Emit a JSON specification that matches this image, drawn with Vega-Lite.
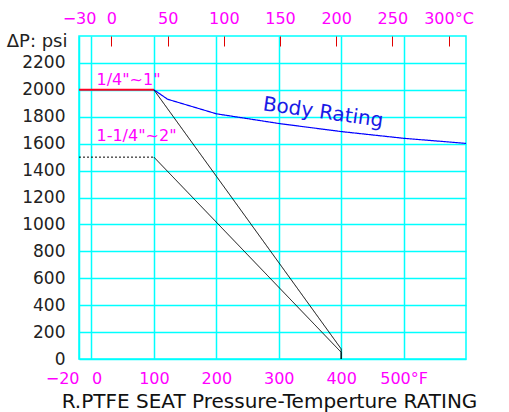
{
  "$schema": "https://vega.github.io/schema/vega-lite/v6.json",
  "width": 387,
  "height": 323,
  "autosize": {"type": "none"},
  "padding": {"left": 79, "top": 36, "right": 43, "bottom": 53},
  "background": "white",
  "config": {
    "view": {"stroke": "#00ffff", "strokeWidth": 1.5},
    "font": "DejaVu Sans",
    "axisY": {
      "grid": true, "gridColor": "#00ffff", "gridWidth": 1.5,
      "ticks": false, "domain": false,
      "labelColor": "#222", "labelFontSize": 17, "labelPadding": 14,
      "labelFlush": false, "labelOverlap": false,
      "titleAngle": 0, "titleAlign": "right", "titleBaseline": "alphabetic",
      "titleX": -12, "titleY": 10, "titleFontSize": 18, "titleFontWeight": "normal", "titleColor": "#222"
    }
  },
  "datasets": {
    "lines": [
      {"s": "r", "i": 1, "x": -20, "y": 2000},
      {"s": "r", "i": 2, "x": 100, "y": 2000},
      {"s": "body", "i": 1, "x": 100, "y": 2000},
      {"s": "body", "i": 2, "x": 122, "y": 1930},
      {"s": "body", "i": 3, "x": 200, "y": 1822},
      {"s": "body", "i": 4, "x": 300, "y": 1750},
      {"s": "body", "i": 5, "x": 400, "y": 1690},
      {"s": "body", "i": 6, "x": 500, "y": 1640},
      {"s": "body", "i": 7, "x": 600, "y": 1602},
      {"s": "k1", "i": 1, "x": 100, "y": 2000},
      {"s": "k1", "i": 2, "x": 400, "y": 75},
      {"s": "k1", "i": 3, "x": 400, "y": 0},
      {"s": "kd", "i": 1, "x": -20, "y": 1500},
      {"s": "kd", "i": 2, "x": 100, "y": 1500},
      {"s": "k2", "i": 1, "x": 100, "y": 1500},
      {"s": "k2", "i": 2, "x": 400, "y": 50},
      {"s": "k2", "i": 3, "x": 400, "y": 0}
    ],
    "sizes": [
      {"label": "1/4\"~1\"", "x": 8, "y": 2072},
      {"label": "1-1/4\"~2\"", "x": 8, "y": 1656}
    ],
    "body": [
      {"label": "Body Rating", "x": 371, "y": 1830}
    ]
  },
  "layer": [
    {
      "data": {"name": "lines"},
      "mark": {"type": "line"},
      "encoding": {
        "x": {
          "field": "x", "type": "quantitative",
          "scale": {"domain": [-20, 600], "nice": false, "zero": false},
          "axis": {
            "orient": "bottom",
            "values": [-20, 0, 100, 200, 300, 400, 500],
            "grid": true, "gridColor": "#00ffff", "gridWidth": 1.5,
            "ticks": false, "domain": false,
            "labelColor": "#ff00ff", "labelFontSize": 16, "labelPadding": 11,
            "labelFlush": false, "labelOverlap": false,
            "labelAlign": {"condition": [{"test": "datum.value == -20", "value": "right"}, {"test": "datum.value == 0", "value": "left"}], "value": "center"},
            "labelExpr": "datum.value == 500 ? '500°F' : datum.label",
            "title": "R.PTFE SEAT Pressure-Temperture RATING",
            "titleFontSize": 20, "titleFontWeight": "normal", "titleColor": "#111",
            "titleBaseline": "alphabetic", "titleY": 48, "titleX": 190, "titleAlign": "center"
          }
        },
        "y": {
          "field": "y", "type": "quantitative",
          "scale": {"domain": [0, 2400], "nice": false, "zero": true},
          "axis": {"values": [0, 200, 400, 600, 800, 1000, 1200, 1400, 1600, 1800, 2000, 2200], "format": "d", "title": "ΔP: psi"}
        },
        "color": {
          "field": "s", "type": "nominal", "legend": null,
          "scale": {"domain": ["body", "r", "k1", "k2", "kd"], "range": ["#0000ff", "#ff0022", "#000000", "#000000", "#000000"]}
        },
        "strokeDash": {
          "field": "s", "type": "nominal", "legend": null,
          "scale": {"domain": ["body", "r", "k1", "k2", "kd"], "range": [[1, 0], [1, 0], [1, 0], [1, 0], [2, 2]]}
        },
        "strokeWidth": {
          "field": "s", "type": "nominal", "legend": null,
          "scale": {"type": "ordinal", "domain": ["body", "r", "k1", "k2", "kd"], "range": [1.2, 2, 1, 1, 1]}
        },
        "order": {"field": "i", "type": "quantitative"}
      }
    },
    {
      "data": {"name": "sizes"},
      "mark": {"type": "text", "align": "left", "baseline": "middle", "fontSize": 16, "color": "#ff00ff"},
      "encoding": {
        "x": {
          "field": "x", "type": "quantitative",
          "scale": {"domain": [-20, 600], "nice": false, "zero": false},
          "axis": {
            "orient": "top",
            "values": [-20, 32, 122, 212, 302, 392, 482, 572],
            "grid": false, "domain": false,
            "ticks": true, "tickSize": -10, "tickWidth": 1,
            "tickColor": {"condition": {"test": "datum.value == -20", "value": "transparent"}, "value": "#e00000"},
            "labelColor": "#ff00ff", "labelFontSize": 16, "labelPadding": 20,
            "labelFlush": false, "labelOverlap": false,
            "labelExpr": "datum.value == -20 ? '−30' : (datum.value == 572 ? '300°C' : format((datum.value - 32) * 5 / 9, '.0f'))",
            "title": null
          }
        },
        "y": {
          "field": "y", "type": "quantitative",
          "scale": {"domain": [0, 2400], "nice": false, "zero": true},
          "axis": {"values": [0, 200, 400, 600, 800, 1000, 1200, 1400, 1600, 1800, 2000, 2200], "format": "d", "title": "ΔP: psi"}
        },
        "text": {"field": "label"}
      }
    },
    {
      "data": {"name": "body"},
      "mark": {"type": "text", "align": "center", "baseline": "middle", "fontSize": 20, "angle": 8, "color": "#1a1ae6"},
      "encoding": {
        "x": {"field": "x", "type": "quantitative", "scale": {"domain": [-20, 600], "nice": false, "zero": false}, "axis": null},
        "y": {
          "field": "y", "type": "quantitative",
          "scale": {"domain": [0, 2400], "nice": false, "zero": true},
          "axis": {"values": [0, 200, 400, 600, 800, 1000, 1200, 1400, 1600, 1800, 2000, 2200], "format": "d", "title": "ΔP: psi"}
        },
        "text": {"field": "label"}
      }
    }
  ],
  "resolve": {"axis": {"x": "independent"}}
}
